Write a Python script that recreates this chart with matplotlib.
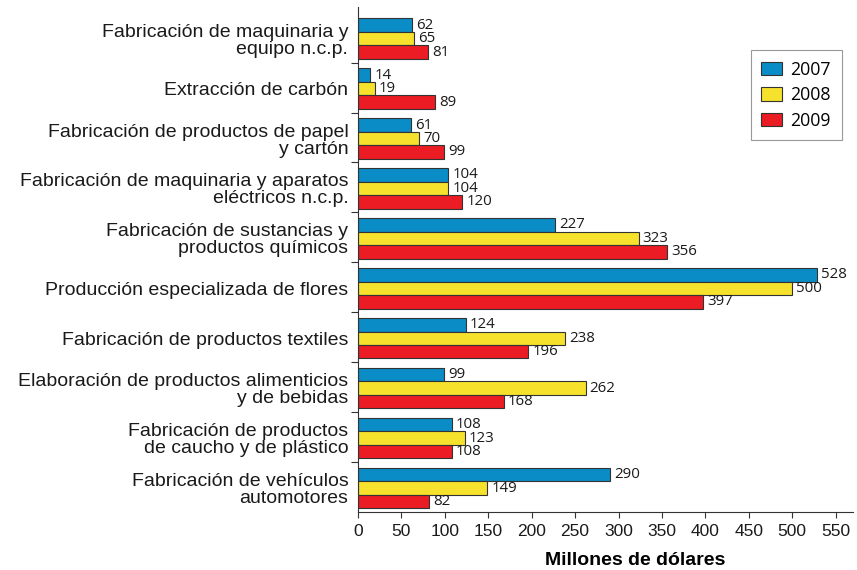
import numpy as np
import matplotlib
matplotlib.use("Agg")
from matplotlib import pyplot as plt
from matplotlib.ticker import FixedLocator

categorias = [
    "Fabricación de maquinaria y\nequipo n.c.p.",
    "Extracción de carbón",
    "Fabricación de productos de papel\ny cartón",
    "Fabricación de maquinaria y aparatos\neléctricos n.c.p.",
    "Fabricación de sustancias y\nproductos químicos",
    "Producción especializada de flores",
    "Fabricación de productos textiles",
    "Elaboración de productos alimenticios\ny de bebidas",
    "Fabricación de productos\nde caucho y de plástico",
    "Fabricación de vehículos\nautomotores",
]
anios = ["2007", "2008", "2009"]
v2007 = [62, 14, 61, 104, 227, 528, 124, 99, 108, 290]
v2008 = [65, 19, 70, 104, 323, 500, 238, 262, 123, 149]
v2009 = [81, 89, 99, 120, 356, 397, 196, 168, 108, 82]
xticks = [0, 50, 100, 150, 200, 250, 300, 350, 400, 450, 500, 550]

colores = ["#0a8cc6", "#f6e22c", "#ec1c24"]

plt.rcParams["font.family"] = ["Liberation Sans", "DejaVu Sans"]

fig = plt.figure(figsize=(8.57, 5.70), dpi=100)
ax = fig.add_axes([358 / 857, 1 - 512 / 570, (853 - 358) / 857, (512 - 6.7) / 570])

y = np.arange(len(categorias))
h = 0.27
series = [v2007, v2008, v2009]
for k, (vals, col, lab) in enumerate(zip(series, colores, anios)):
    bars = ax.barh(y + (k - 1) * h, vals, height=h, color=col, edgecolor="#333333",
                   linewidth=0.8, label=lab)
    ax.bar_label(bars, padding=3, fontsize=10.8, family=["Open Sans", "DejaVu Sans"],
                 color="#1a1a1a")

ax.set_xlim(0, 570)
ax.set_ylim(9.48, -0.64)
ax.set_xticks(xticks)
ax.set_xticklabels([str(t) for t in xticks], fontsize=12.5, color="#1a1a1a")
ax.tick_params(axis="x", length=4, width=0.8, pad=5, color="#333333")

ax.set_yticks(y)
ax.set_yticklabels(categorias, fontsize=14, color="#1a1a1a", linespacing=1.0)
ax.tick_params(axis="y", which="major", length=0, pad=7)
ax.yaxis.set_minor_locator(FixedLocator(y[:-1] + 0.48))
ax.tick_params(axis="y", which="minor", length=5, width=0.8, color="#333333")

for s in ["top", "right"]:
    ax.spines[s].set_visible(False)
for s in ["left", "bottom"]:
    ax.spines[s].set_color("#333333")
    ax.spines[s].set_linewidth(0.8)

ax.set_xlabel("Millones de dólares", fontsize=14, fontweight="bold")
ax.xaxis.set_label_coords(0.559, -0.08)

leg = ax.legend(loc="upper right", bbox_to_anchor=(841.7 / 857, 1 - 50 / 570),
                bbox_transform=fig.transFigure, borderaxespad=0, fancybox=False,
                edgecolor="#999999", framealpha=1, handlelength=1.15, handleheight=0.8,
                labelspacing=0.42, handletextpad=0.5, borderpad=0.6,
                prop={"family": ["Open Sans", "DejaVu Sans"], "size": 12.8})
leg.get_frame().set_linewidth(0.8)

plt.savefig("out.png", dpi=100)
